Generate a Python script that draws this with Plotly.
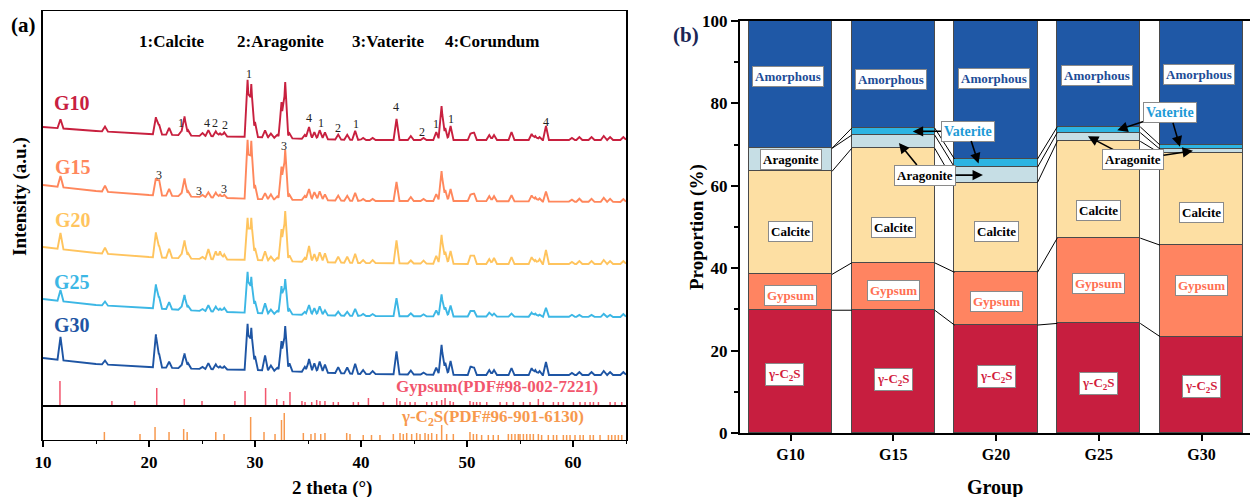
import numpy as np
import plotly.graph_objects as go

SERIF = "Liberation Serif, Times New Roman, serif"

# ---------------- (a) XRD patterns ----------------
SAMPLES = ["G10", "G15", "G20", "G25", "G30"]
SAMPLE_COLORS = ["#C8203F", "#FF875C", "#FFC45E", "#3CB7E5", "#1E55A4"]

# peak positions (2theta, deg) shared by all patterns
PEAK_2THETA = [11.65, 15.85, 20.65, 20.95, 21.9, 23.05, 23.35, 23.7, 25.05, 25.6,
               26.3, 26.7, 27.1, 29.3, 29.65, 30.0, 30.95, 31.5, 32.1, 32.5,
               32.85, 33.25, 34.7, 35.1, 35.6, 36.1, 36.6, 37.85, 38.7, 39.45,
               40.2, 41.1, 43.35, 44.7, 45.9, 47.1, 47.6, 47.95, 48.45, 50.35,
               50.65, 52.1, 52.55, 54.2, 56.1, 56.45, 56.85, 57.45, 59.9, 60.6,
               61.75, 62.9, 63.5, 64.75]

# peak heights above background (a.u.)
HEIGHT_G10 = [9, 5, 17, 10, 7, 4, 19, 5, 3, 6,
              5, 3, 4, 57, 53, 15, 7, 4, 3, 36,
              56, 5, 4, 12, 7, 9, 7, 5, 5, 9,
              2, 2, 21, 4, 2, 8, 34, 12, 14, 7,
              8, 5, 5, 8, 6, 4, 3, 14, 2, 3,
              3, 4, 3, 3]
HEIGHT_G15 = [11, 6, 17, 16, 7, 3, 18, 5, 2, 5,
              5, 3, 3, 59, 58, 14, 6, 5, 3, 33,
              50, 5, 4, 11, 8, 9, 6, 5, 5, 8,
              2, 2, 19, 4, 2, 7, 30, 11, 12, 7,
              8, 5, 5, 6, 6, 4, 3, 10, 2, 3,
              3, 4, 3, 3]
HEIGHT_G20 = [16, 6, 25, 12, 9, 4, 18, 5, 2, 10,
              8, 8, 5, 42, 42, 12, 9, 4, 3, 32,
              50, 6, 4, 16, 8, 10, 9, 6, 6, 9,
              3, 3, 23, 3, 3, 8, 29, 12, 13, 9,
              9, 5, 6, 7, 7, 4, 5, 14, 2, 3,
              3, 4, 3, 3]
HEIGHT_G25 = [11, 4, 24, 12, 7, 3, 15, 4, 2, 6,
              5, 3, 4, 41, 36, 12, 10, 4, 3, 28,
              35, 5, 3, 10, 7, 9, 5, 4, 4, 7,
              2, 2, 18, 3, 2, 6, 22, 9, 11, 6,
              6, 4, 3, 3, 4, 3, 2, 9, 2, 2,
              2, 3, 2, 3]
HEIGHT_G30 = [23, 4, 33, 14, 6, 3, 15, 5, 2, 6,
              5, 3, 3, 46, 42, 14, 15, 5, 3, 30,
              45, 8, 5, 13, 9, 11, 8, 6, 6, 10,
              4, 3, 23, 4, 2, 7, 30, 12, 14, 9,
              8, 5, 5, 7, 7, 5, 4, 13, 2, 3,
              3, 4, 3, 3]

# background level of each stacked pattern
BASE_2THETA = [10, 15, 20, 25, 30, 35, 40, 50, 65]
BASE_G10 = [279, 275, 272, 270, 269, 267, 266, 266, 266]
BASE_G15 = [221, 215, 211, 209, 207, 206, 205, 205, 204]
BASE_G20 = [159, 153, 149, 147, 146, 144, 143, 142, 142]
BASE_G25 = [107, 101, 98, 95, 93, 91, 90, 89.5, 89]
BASE_G30 = [48, 42, 39, 37, 36, 34, 32, 31, 31]

HEIGHTS = [HEIGHT_G10, HEIGHT_G15, HEIGHT_G20, HEIGHT_G25, HEIGHT_G30]
BASES = [BASE_G10, BASE_G15, BASE_G20, BASE_G25, BASE_G30]

# reference stick patterns
GYPSUM_2THETA = [11.6, 16.5, 18.65, 20.73, 23.33, 25.0, 28.1, 29.06, 31.0, 32.05,
                 32.7, 33.3, 34.43, 34.72, 35.35, 35.82, 36.13, 36.6, 37.39, 37.86,
                 39.28, 39.75, 40.7, 42.11, 43.37, 43.68, 44.16, 44.63, 45.1, 46.2,
                 46.67, 47.14, 47.61, 47.93, 48.4, 48.71, 50.28, 50.6, 50.91, 51.23,
                 51.86, 53.12, 53.74, 54.37, 55.32, 55.95, 56.73, 57.2, 58.15, 58.62,
                 59.09, 60.04, 60.66, 61.14, 61.61, 61.93, 62.4, 63.5, 63.97, 64.6]
GYPSUM_INT = [25, 5, 5, 18, 7, 5, 5, 15, 18, 7,
              5, 14, 5, 4, 4, 6, 5, 5, 4, 4,
              4, 4, 8, 4, 8, 5, 4, 4, 4, 4,
              4, 5, 6, 8, 5, 4, 5, 4, 4, 4,
              4, 4, 4, 4, 4, 4, 7, 4, 4, 4,
              4, 4, 4, 4, 4, 4, 4, 4, 4, 4]

C2S_2THETA = [15.79, 19.15, 20.57, 21.89, 23.27, 23.6, 26.3, 27.08, 29.59, 30.85,
              31.89, 32.5, 32.76, 34.56, 35.28, 35.66, 36.2, 36.6, 38.65, 38.96,
              40.21, 40.99, 41.79, 43.05, 43.68, 43.99, 44.31, 44.78, 45.25, 45.57,
              46.04, 46.35, 46.67, 47.14, 47.61, 48.08, 48.71, 50.28, 50.6, 50.91,
              51.38, 52.01, 52.48, 52.95, 53.9, 54.21, 54.53, 54.84, 55.0, 55.32,
              55.63, 55.95, 56.26, 56.73, 57.04, 57.67, 58.15, 58.46, 59.09, 59.4,
              59.72, 60.19, 60.66, 60.97, 61.61, 61.92, 62.55, 63.34, 63.65, 63.97,
              64.28, 64.6]
C2S_INT = [8, 6, 13, 8, 11, 8, 8, 6, 23, 8,
           6, 20, 27, 7, 6, 7, 6, 7, 7, 6,
           5, 5, 5, 6, 7, 6, 7, 6, 7, 6,
           7, 6, 7, 6, 15, 6, 6, 8, 6, 6,
           5, 5, 5, 5, 6, 6, 6, 6, 6, 6,
           6, 6, 6, 6, 5, 5, 5, 5, 5, 5,
           5, 5, 5, 5, 5, 5, 5, 5, 5, 5,
           5, 5]

# phase markers: (label, 2theta, height)
MARKS_G10 = [("1", 29.4, 332), ("1", 23.0, 283), ("4", 25.5, 283), ("2", 26.2, 283),
             ("2", 27.2, 281), ("4", 35.1, 288), ("1", 36.2, 283), ("2", 37.86, 278),
             ("1", 39.5, 282), ("4", 43.27, 299), ("2", 45.8, 274), ("1", 47.1, 282),
             ("1", 48.5, 287), ("4", 57.45, 284)]
MARKS_G15 = [("3", 20.9, 231), ("3", 24.75, 215), ("3", 27.08, 217), ("3", 32.74, 260)]

SAMPLE_LABEL_POS = [(12.75, 303), (12.85, 239), (12.85, 186), (12.75, 124), (12.75, 81)]
PHASE_KEY = ["1:Calcite", "2:Aragonite", "3:Vaterite", "4:Corundum"]
PHASE_KEY_X = [22.2, 32.4, 42.6, 52.4]

# ---------------- (b) phase proportions ----------------
GROUPS = ["G10", "G15", "G20", "G25", "G30"]
C2S = [29.8, 29.8, 26.2, 26.6, 23.4]
GYPSUM = [8.7, 11.5, 12.8, 20.7, 22.2]
CALCITE = [25.0, 27.8, 21.8, 23.5, 22.3]
ARAGONITE = [5.6, 3.2, 3.7, 2.1, 1.0]
VATERITE = [0.0, 1.7, 2.0, 1.4, 1.0]
AMORPHOUS = [30.9, 26.0, 33.5, 25.7, 30.1]

PHASES = [
    ("γ-C<sub>2</sub>S", C2S, "#C71E3F", "#D21C3E"),
    ("Gypsum", GYPSUM, "#FF8461", "#FF6F52"),
    ("Calcite", CALCITE, "#FDDFA3", "#000000"),
    ("Aragonite", ARAGONITE, "#C6DEE5", "#000000"),
    ("Vaterite", VATERITE, "#2DB4E2", "#1E9AD6"),
    ("Amorphous", AMORPHOUS, "#1F58A6", "#1D4C96"),
]

# in-bar label heights (%)
LABEL_Y_C2S = [14.3, 12.9, 13.6, 11.9, 11.4]
LABEL_Y_GYP = [33.3, 34.5, 31.8, 36.4, 35.9]
LABEL_Y_CAL = [49.0, 49.8, 48.8, 53.9, 53.4]
LABEL_Y_AMO = [86.5, 85.9, 86.0, 86.7, 87.1]

fig = go.Figure()

HW = 0.28  # half width of a drawn reflection (deg)


def profile(base, heights):
    pk = np.asarray(PEAK_2THETA, dtype=float)
    xs = np.unique(np.concatenate([BASE_2THETA, pk, pk - HW, pk + HW]))
    xs = xs[(xs >= 10) & (xs <= 65)]
    ys = np.interp(xs, BASE_2THETA, base)
    for p, h in zip(pk, heights):
        ys = ys + h * np.clip(1 - np.abs(xs - p) / HW, 0, None)
    return xs, ys


def sticks(pos, inten):
    xs, ys = [], []
    for p, v in zip(pos, inten):
        xs += [p, p, None]
        ys += [0, v, None]
    return xs, ys


for name, col, base, hts in zip(SAMPLES, SAMPLE_COLORS, BASES, HEIGHTS):
    xs, ys = profile(base, hts)
    fig.add_trace(go.Scatter(x=xs, y=ys, mode="lines", name=name,
                             line=dict(color=col, width=1.9),
                             xaxis="x", yaxis="y"))

gx, gy = sticks(GYPSUM_2THETA, GYPSUM_INT)
fig.add_trace(go.Scatter(x=gx, y=gy, mode="lines", line=dict(color="#F2566D", width=1.5),
                         xaxis="x", yaxis="y"))
cx, cy = sticks(C2S_2THETA, C2S_INT)
fig.add_trace(go.Scatter(x=cx, y=cy, mode="lines", line=dict(color="#F7994E", width=1.5),
                         xaxis="x2", yaxis="y2"))

# stacked bars
pos = list(range(len(GROUPS)))
BAR_W = 0.808
for name, vals, fill, _ in PHASES:
    fig.add_trace(go.Bar(x=pos, y=vals, width=BAR_W,
                         marker=dict(color=fill, line=dict(color="#4a4a4a", width=1)),
                         name=name, xaxis="x3", yaxis="y3"))

# connectors between neighbouring bars
cum = np.cumsum(np.array([C2S, GYPSUM, CALCITE, ARAGONITE, VATERITE]), axis=0)
lx, ly = [], []
for level in cum:
    for i in range(len(GROUPS) - 1):
        lx += [i + BAR_W / 2, i + 1 - BAR_W / 2, None]
        ly += [level[i], level[i + 1], None]
fig.add_trace(go.Scatter(x=lx, y=ly, mode="lines", line=dict(color="black", width=1),
                         xaxis="x3", yaxis="y3"))

ann = []
bold = dict(family=SERIF, weight="bold")


def paper_text(px, py, text, size, color="black", **kw):
    d = dict(x=px / 1250, y=1 - py / 497, xref="paper", yref="paper", text=text,
             showarrow=False, xanchor="center", yanchor="middle",
             font=dict(bold, size=size, color=color))
    d.update(kw)
    return d


# panel (a) text
for (tx, ty), name, col in zip(SAMPLE_LABEL_POS, SAMPLES, SAMPLE_COLORS):
    ann.append(dict(x=tx, y=ty, xref="x", yref="y", text=name, showarrow=False,
                    font=dict(bold, size=20, color=col)))
for lbl, tx, ty in MARKS_G10 + MARKS_G15:
    ann.append(dict(x=tx, y=ty, xref="x", yref="y", text=lbl, showarrow=False,
                    font=dict(family=SERIF, size=12, color="#222")))
for t, tx in zip(PHASE_KEY, PHASE_KEY_X):
    ann.append(dict(x=tx, y=365, xref="x", yref="y", text=t, showarrow=False,
                    font=dict(bold, size=17, color="black")))
ann.append(dict(x=52.8, y=19.5, xref="x", yref="y", text="Gypsum(PDF#98-002-7221)",
                showarrow=False, font=dict(bold, size=17, color="#F2566D")))
ann.append(dict(x=52.45, y=22, xref="x2", yref="y2", text="γ-C<sub>2</sub>S(PDF#96-901-6130)",
                showarrow=False, font=dict(bold, size=17, color="#F7994E")))
ann.append(paper_text(24, 25, "(a)", 21))
ann.append(paper_text(20, 197, "Intensity (a.u.)", 19, textangle=-90))
ann.append(paper_text(332, 488, "2 theta (°)", 19))

# panel (b) text
ann.append(paper_text(686, 35, "(b)", 21, "#1B2656"))
ann.append(paper_text(697, 227, "Proportion (%)", 19, textangle=-90))
ann.append(paper_text(995, 487, "Group", 20))

box = dict(bgcolor="white", bordercolor="#8a8a8a", borderwidth=1, borderpad=2)


def bar_label(x, y, text, color, **kw):
    d = dict(x=x, y=y, xref="x3", yref="y3", text=text, showarrow=False,
             font=dict(bold, size=13, color=color))
    d.update(box)
    d.update(kw)
    return d


for i in pos:
    ann.append(bar_label(i - (0.06 if i == 0 else 0), LABEL_Y_C2S[i], PHASES[0][0], PHASES[0][3]))
    ann.append(bar_label(i, LABEL_Y_GYP[i], "Gypsum", PHASES[1][3]))
    ann.append(bar_label(i, LABEL_Y_CAL[i], "Calcite", "black"))
    ann.append(bar_label(i - 0.02, LABEL_Y_AMO[i], "Amorphous", PHASES[5][3]))
ann.append(bar_label(0, 66.3, "Aragonite", "black"))

# callouts for the thin layers: (text, colour, label x, label y, arrow tip x, arrow tip y)
CALLOUTS = [
    ("Vaterite", PHASES[4][3], 1.727, 73.3, 1.19, 73.2),
    ("Vaterite", PHASES[4][3], 1.727, 73.3, 1.83, 65.4),
    ("Vaterite", PHASES[4][3], 3.694, 77.7, 3.18, 73.5),
    ("Vaterite", PHASES[4][3], 3.694, 77.7, 3.79, 69.5),
    ("Aragonite", "black", 1.309, 62.6, 1.055, 70.4),
    ("Aragonite", "black", 1.309, 62.6, 1.873, 62.6),
    ("Aragonite", "black", 3.333, 66.3, 2.895, 72.0),
    ("Aragonite", "black", 3.333, 66.3, 3.917, 68.5),
]
for text, col, lx_, ly_, tx, ty in CALLOUTS:
    ann.append(bar_label(tx, ty, text, col, showarrow=True, ax=lx_, ay=ly_, axref="x3", ayref="y3",
                         arrowhead=2, arrowsize=1.3, arrowwidth=1.6, arrowcolor="black",
                         standoff=0, font=dict(bold, size=14 if text == "Vaterite" else 13, color=col)))

axis_line = dict(showline=True, linecolor="black", showgrid=False, zeroline=False, automargin=False)
L0, L1 = 43 / 1250, 626 / 1250

fig.update_layout(
    template="none",
    width=1250, height=497, margin=dict(l=0, r=0, t=0, b=0, pad=0, autoexpand=False),
    paper_bgcolor="white", plot_bgcolor="white", showlegend=False,
    barmode="stack", bargap=0,
    font=dict(family=SERIF, color="black"),
    xaxis=dict(axis_line, domain=[L0, L1], range=[10, 65], anchor="y", mirror=True,
               linewidth=1.4, showticklabels=False, ticks=""),
    yaxis=dict(axis_line, domain=[91 / 497, 486 / 497], range=[0, 395], anchor="x", mirror=True,
               linewidth=1.6, showticklabels=False, ticks=""),
    xaxis2=dict(axis_line, domain=[L0, L1], range=[10, 65], anchor="y2", mirror=True,
                linewidth=1.4, tickvals=[10, 20, 30, 40, 50, 60], ticks="outside",
                ticklen=6, tickwidth=1.6, tickcolor="black",
                tickfont=dict(bold, size=17, color="black"),
                minor=dict(tickvals=[15, 25, 35, 45, 55, 65], ticks="outside", ticklen=3,
                           tickwidth=1.4, tickcolor="black")),
    yaxis2=dict(axis_line, domain=[57 / 497, 91 / 497], range=[0, 34], anchor="x2", mirror=True,
                linewidth=1.6, showticklabels=False, ticks=""),
    xaxis3=dict(axis_line, domain=[740 / 1250, 1.0], range=[-0.4915, 4.472], anchor="y3",
                mirror=True, linewidth=2, tickvals=pos, ticktext=GROUPS, ticks="outside",
                ticklen=6, tickwidth=2, tickcolor="black",
                tickfont=dict(bold, size=16, color="black")),
    yaxis3=dict(axis_line, domain=[64 / 497, 476 / 497], range=[0, 100], anchor="x3",
                linewidth=2, tickvals=[0, 20, 40, 60, 80, 100], ticks="outside", ticklen=7,
                tickwidth=2, tickcolor="black", tickfont=dict(bold, size=17, color="black"),
                minor=dict(tickvals=[10, 30, 50, 70, 90], ticks="outside", ticklen=4,
                           tickwidth=2, tickcolor="black")),
    annotations=ann,
)

fig.write_html("out.html")
